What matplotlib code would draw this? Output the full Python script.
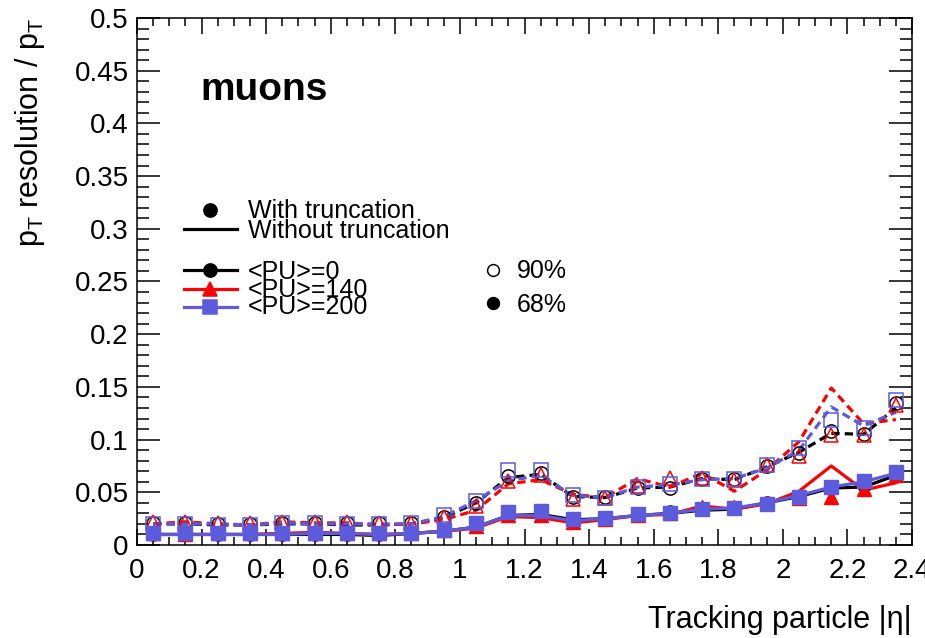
"""
pT resolution vs tracking-particle |eta| for muons, with and without
truncation, for three pile-up scenarios (68% and 90% coverage).
"""

import matplotlib as mpl
import matplotlib.pyplot as plt
from matplotlib.lines import Line2D
from matplotlib.ticker import MultipleLocator

# ── eta bin centres ────────────────────────────────────────────────────────────
eta = [0.05, 0.15, 0.25, 0.35, 0.45, 0.55, 0.65, 0.75, 0.85, 0.95, 1.05, 1.15,
       1.25, 1.35, 1.45, 1.55, 1.65, 1.75, 1.85, 1.95, 2.05, 2.15, 2.25, 2.35]

# ── 90% coverage, with truncation (open markers) ──────────────────────────────
r90_trunc_pu0 = [0.021, 0.021, 0.020, 0.020, 0.021, 0.021, 0.021, 0.021, 0.021, 0.027, 0.040, 0.065,
                 0.068, 0.046, 0.046, 0.054, 0.054, 0.063, 0.063, 0.075, 0.087, 0.108, 0.105, 0.135]
r90_trunc_pu140 = [0.022, 0.022, 0.021, 0.021, 0.022, 0.022, 0.022, 0.021, 0.021, 0.027, 0.037, 0.061,
                   0.066, 0.044, 0.045, 0.056, 0.064, 0.064, 0.062, 0.076, 0.084, 0.104, 0.104, 0.133]
r90_trunc_pu200 = [0.020, 0.020, 0.019, 0.019, 0.021, 0.021, 0.020, 0.020, 0.021, 0.028, 0.042, 0.071,
                   0.071, 0.047, 0.045, 0.055, 0.058, 0.063, 0.063, 0.076, 0.092, 0.119, 0.111, 0.138]

# ── 90% coverage, without truncation (dashed lines) ───────────────────────────
r90_full_pu0 = [0.020, 0.020, 0.019, 0.019, 0.020, 0.020, 0.019, 0.019, 0.020, 0.026, 0.040, 0.064,
                0.067, 0.046, 0.045, 0.054, 0.055, 0.063, 0.062, 0.074, 0.088, 0.106, 0.105, 0.130]
r90_full_pu140 = [0.020, 0.022, 0.020, 0.019, 0.022, 0.021, 0.021, 0.019, 0.020, 0.024, 0.033, 0.058,
                  0.062, 0.048, 0.045, 0.063, 0.055, 0.068, 0.051, 0.071, 0.098, 0.149, 0.115, 0.119]
r90_full_pu200 = [0.020, 0.020, 0.020, 0.019, 0.021, 0.020, 0.020, 0.020, 0.020, 0.027, 0.042, 0.061,
                  0.066, 0.047, 0.045, 0.055, 0.057, 0.062, 0.063, 0.073, 0.090, 0.131, 0.113, 0.126]

# ── 68% coverage, with truncation (filled markers) ────────────────────────────
r68_trunc_pu0 = [0.010, 0.010, 0.010, 0.010, 0.010, 0.010, 0.010, 0.010, 0.011, 0.014, 0.019, 0.028,
                 0.030, 0.023, 0.025, 0.028, 0.031, 0.034, 0.035, 0.040, 0.046, 0.054, 0.057, 0.068]
r68_trunc_pu140 = [0.011, 0.010, 0.011, 0.011, 0.011, 0.011, 0.011, 0.011, 0.011, 0.014, 0.018, 0.028,
                   0.028, 0.022, 0.025, 0.028, 0.030, 0.036, 0.036, 0.040, 0.045, 0.046, 0.053, 0.066]
r68_trunc_pu200 = [0.011, 0.011, 0.011, 0.011, 0.011, 0.011, 0.011, 0.011, 0.011, 0.014, 0.021, 0.031,
                   0.032, 0.025, 0.026, 0.029, 0.030, 0.034, 0.035, 0.039, 0.046, 0.055, 0.061, 0.069]

# ── 68% coverage, without truncation (solid lines) ────────────────────────────
r68_full_pu0 = [0.010, 0.010, 0.010, 0.010, 0.010, 0.010, 0.010, 0.009, 0.011, 0.013, 0.017, 0.028,
                0.029, 0.024, 0.025, 0.028, 0.030, 0.033, 0.034, 0.040, 0.046, 0.054, 0.055, 0.066]
r68_full_pu140 = [0.010, 0.010, 0.010, 0.010, 0.011, 0.012, 0.011, 0.010, 0.011, 0.013, 0.016, 0.027,
                  0.026, 0.021, 0.024, 0.028, 0.029, 0.037, 0.034, 0.039, 0.051, 0.075, 0.052, 0.059]
r68_full_pu200 = [0.010, 0.010, 0.010, 0.010, 0.010, 0.011, 0.011, 0.010, 0.011, 0.013, 0.017, 0.028,
                  0.028, 0.023, 0.025, 0.028, 0.030, 0.034, 0.035, 0.040, 0.047, 0.055, 0.060, 0.068]

PU_LABELS = ["<PU>=0", "<PU>=140", "<PU>=200"]

# ── style ─────────────────────────────────────────────────────────────────────
mpl.rcParams.update({
    "font.family": ["Liberation Sans", "DejaVu Sans"],
    "mathtext.default": "regular",
    "axes.linewidth": 1.1,
})

BLACK = "#000000"
RED = "#ff0000"
BLUE = "#5b5bdc"
COLORS = [BLACK, RED, BLUE]
MARKERS = ["o", "^", "s"]
MSIZE = [9.5, 10.5, 10.5]
DASH = (0, (2.6, 1.6))
LW = 2.3

W, H = 925, 638


def fpos(x, y):
    """Pixel position (from top-left) -> figure fraction."""
    return x / W, 1 - y / H


fig = plt.figure(figsize=(W / 100, H / 100), dpi=100)
ax = fig.add_axes([137 / W, 1 - 545 / H, 775 / W, 527 / H])

series = [
    (r90_trunc_pu0, r90_full_pu0, r68_trunc_pu0, r68_full_pu0),
    (r90_trunc_pu140, r90_full_pu140, r68_trunc_pu140, r68_full_pu140),
    (r90_trunc_pu200, r90_full_pu200, r68_trunc_pu200, r68_full_pu200),
]

for i, (t90, f90, t68, f68) in enumerate(series):
    c, m, ms = COLORS[i], MARKERS[i], MSIZE[i]
    # without truncation: dashed (90%) and solid (68%) lines
    ax.plot(eta, f90, color=c, lw=LW, linestyle=DASH, zorder=3 + 0.1 * i)
    ax.plot(eta, f68, color=c, lw=LW, linestyle="-", zorder=3 + 0.1 * i)
    # with truncation: open (90%) and filled (68%) markers
    ax.plot(eta, t90, linestyle="none", marker=m, ms=ms, mfc="none",
            mec=c, mew=1.1, zorder=4 + 0.1 * i)
    ax.plot(eta, t68, linestyle="none", marker=m, ms=ms, mfc=c,
            mec=c, zorder=5 + 0.1 * i)

# ── axes ──────────────────────────────────────────────────────────────────────
ax.set_xlim(0, 2.4)
ax.set_ylim(0, 0.5)
ax.xaxis.set_major_locator(MultipleLocator(0.2))
ax.xaxis.set_minor_locator(MultipleLocator(0.05))
ax.yaxis.set_major_locator(MultipleLocator(0.05))
ax.yaxis.set_minor_locator(MultipleLocator(0.01))
ax.xaxis.set_major_formatter(lambda v, p: f"{v:g}")
ax.yaxis.set_major_formatter(lambda v, p: f"{v:g}")
ax.tick_params(which="both", direction="in", top=True, right=True,
               labelsize=20, width=1.1)
ax.tick_params(axis="x", which="major", length=11.5, pad=9)
ax.tick_params(axis="x", which="minor", length=5.8)
ax.tick_params(axis="y", which="major", length=16.5, pad=6)
ax.tick_params(axis="y", which="minor", length=8.3)

fig.text(*fpos(30, 18), r"$p_T$ resolution / $p_T$", rotation=90,
         ha="center", va="top", fontsize=22)
fig.text(*fpos(912, 628), "Tracking particle |η|", ha="right",
         va="baseline", fontsize=22)
fig.text(*fpos(200, 100), "muons", fontsize=28, fontweight="bold",
         va="baseline", ha="left")

# ── legend (keys drawn in figure pixels) ──────────────────────────────────────
LEG_FS = 18
KEY_X0, KEY_X1, KEY_XM, TXT_X = 184, 237, 210, 248


def key(y, color, marker=None, line=True, mfc=None, ms=9.5, x=KEY_XM):
    if line:
        (xa, ya), (xb, _) = fpos(KEY_X0, y), fpos(KEY_X1, y)
        fig.add_artist(Line2D([xa, xb], [ya, ya], color=color, lw=LW,
                              transform=fig.transFigure))
    if marker:
        xm, ym = fpos(x, y)
        fig.add_artist(Line2D([xm], [ym], marker=marker, ms=ms,
                              mfc=color if mfc is None else mfc, mec=color,
                              mew=1.1, linestyle="none",
                              transform=fig.transFigure))


key(210, BLACK, marker="o", line=False)
fig.text(*fpos(TXT_X, 218), "With truncation", fontsize=LEG_FS, va="baseline")
key(229, BLACK)
fig.text(*fpos(TXT_X, 238), "Without truncation", fontsize=LEG_FS, va="baseline")

for y_key, y_txt, c, m, ms, lab in zip([270, 289, 307], [279, 297, 314],
                                       COLORS, MARKERS, MSIZE, PU_LABELS):
    key(y_key, c, marker=m, ms=ms)
    fig.text(*fpos(TXT_X, y_txt), lab, fontsize=LEG_FS, va="baseline")

key(270, BLACK, marker="o", line=False, mfc="white", ms=8.5, x=493)
fig.text(*fpos(517, 278), "90%", fontsize=LEG_FS, va="baseline")
key(303, BLACK, marker="o", line=False, ms=8.5, x=493)
fig.text(*fpos(517, 312), "68%", fontsize=LEG_FS, va="baseline")

fig.savefig("out.png", dpi=100)
